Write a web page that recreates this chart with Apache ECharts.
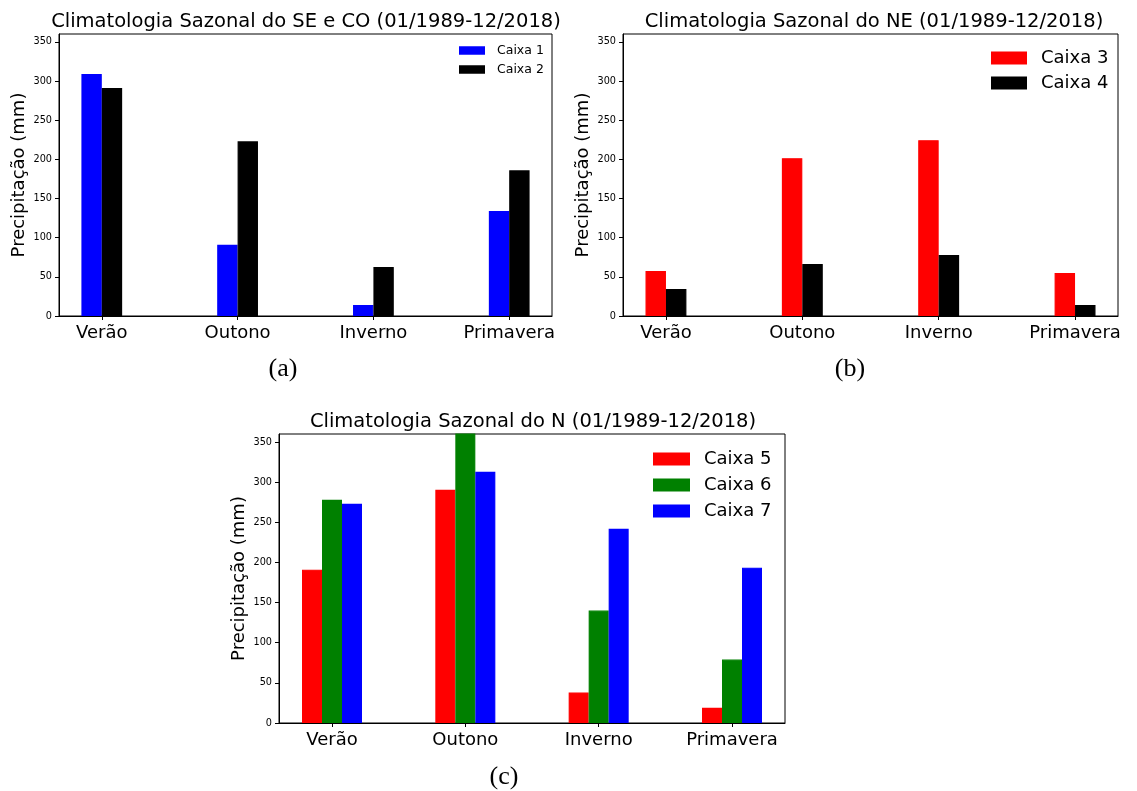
<!DOCTYPE html>
<html>
<head>
<meta charset="utf-8">
<script src="https://cdn.jsdelivr.net/npm/echarts@6/dist/echarts.min.js"></script>
<style>html,body{margin:0;padding:0;background:#fff}#c{width:1137px;height:791px}</style>
</head>
<body>
<div id="c"></div>
<script>
const categories = ['Verão', 'Outono', 'Inverno', 'Primavera'];
const catIndex = [0, 1, 2, 3];
const yTicks = [0, 50, 100, 150, 200, 250, 300, 350];

// Painel (a): SE e CO
const caixa1 = [309, 91, 14, 134];
const caixa2 = [291, 223, 62.5, 186];
// Painel (b): NE
const caixa3 = [57.5, 201.5, 224.5, 55];
const caixa4 = [34.5, 66.5, 78, 14];
// Painel (c): N
const caixa5 = [191, 290.5, 38, 19];
const caixa6 = [278, 370, 140, 79];
const caixa7 = [273, 313, 242, 193.5];

const titles = [
  'Climatologia Sazonal do SE e CO (01/1989-12/2018)',
  'Climatologia Sazonal do NE (01/1989-12/2018)',
  'Climatologia Sazonal do N (01/1989-12/2018)'
];
const panelLabels = ['(a)', '(b)', '(c)'];
const yName = 'Precipitação (mm)';

const FONT = 'DejaVu Sans';
const chart = echarts.init(document.getElementById('c'), null, {renderer: 'canvas'});

const grids = [
  {left: 59, top: 34, width: 493, height: 282},
  {left: 623, top: 34, width: 495, height: 282},
  {left: 279, top: 434, width: 506, height: 289}
];
const xRanges = [[-0.315, 3.315], [-0.315, 3.315], [-0.3975, 3.3975]];

function xAxis(i) {
  return {
    type: 'value', gridIndex: i, min: xRanges[i][0], max: xRanges[i][1],
    splitLine: {show: false},
    axisLine: {show: true, onZero: false, lineStyle: {color: '#000', width: 1}},
    axisTick: {show: true, length: 4, customValues: catIndex, lineStyle: {color: '#000'}},
    axisLabel: {show: true, customValues: catIndex, margin: 8, fontFamily: FONT, fontSize: 18, color: '#000',
      formatter: v => categories[Math.round(v)] || ''}
  };
}
function yAxis(i) {
  return {
    type: 'value', gridIndex: i, min: 0, max: 360, interval: 50,
    name: yName, nameLocation: 'middle', nameRotate: 90, nameGap: 31,
    nameTextStyle: {fontFamily: FONT, fontSize: 18, color: '#000'},
    splitLine: {show: false},
    axisLine: {show: true, onZero: false, lineStyle: {color: '#000', width: 1}},
    axisTick: {show: true, length: 4, customValues: yTicks, lineStyle: {color: '#000'}},
    axisLabel: {show: true, customValues: yTicks, margin: 7, fontFamily: FONT, fontSize: 9.7, color: '#000'}
  };
}
function bar(name, values, color, gi) {
  return {
    type: 'bar', name: name, xAxisIndex: gi, yAxisIndex: gi,
    data: values.map((v, i) => [catIndex[i], v]),
    barWidth: '15%', barGap: '0%', clip: true,
    itemStyle: {color: color, borderColor: color, borderWidth: 1.2},
    emphasis: {disabled: true}, animation: false
  };
}
function legend(names, left, top, fs, iw, ih, gap, pad) {
  return {
    data: names, orient: 'vertical', left: left, top: top, padding: 0,
    itemWidth: iw, itemHeight: ih, itemGap: gap, icon: 'rect',
    selectedMode: false,
    itemStyle: {borderWidth: 0},
    textStyle: {fontFamily: FONT, fontSize: fs, color: '#000', padding: [0, 0, 0, pad]}
  };
}

const graphics = [];
const titlePos = [[306, 22], [874, 22], [533, 422]];
const labelPos = [[283, 369], [850, 369], [504, 777]];
for (let i = 0; i < 3; i++) {
  graphics.push({type: 'text', x: titlePos[i][0], y: titlePos[i][1],
    style: {text: titles[i], fill: '#000', font: '19.5px "' + FONT + '"', textAlign: 'center', textVerticalAlign: 'middle'}});
  graphics.push({type: 'text', x: labelPos[i][0], y: labelPos[i][1],
    style: {text: panelLabels[i], fill: '#000', font: '26px "Liberation Serif"', textAlign: 'center', textVerticalAlign: 'middle'}});
}

chart.setOption({
  animation: false,
  backgroundColor: '#fff',
  grid: grids.map(g => Object.assign({show: true, borderColor: '#000', borderWidth: 1, backgroundColor: 'transparent', containLabel: false, outerBoundsMode: 'none'}, g)),
  xAxis: [xAxis(0), xAxis(1), xAxis(2)],
  yAxis: [yAxis(0), yAxis(1), yAxis(2)],
  legend: [
    legend(['Caixa 1', 'Caixa 2'], 459, 44, 12.5, 26, 8.5, 6, 7),
    legend(['Caixa 3', 'Caixa 4'], 991, 49, 18, 36, 13, 7, 9),
    legend(['Caixa 5', 'Caixa 6', 'Caixa 7'], 653, 450, 18, 37, 13, 8, 9)
  ],
  series: [
    bar('Caixa 1', caixa1, '#0000ff', 0),
    bar('Caixa 2', caixa2, '#000000', 0),
    bar('Caixa 3', caixa3, '#ff0000', 1),
    bar('Caixa 4', caixa4, '#000000', 1),
    bar('Caixa 5', caixa5, '#ff0000', 2),
    bar('Caixa 6', caixa6, '#008000', 2),
    bar('Caixa 7', caixa7, '#0000ff', 2)
  ],
  graphic: graphics
});
</script>
</body>
</html>
